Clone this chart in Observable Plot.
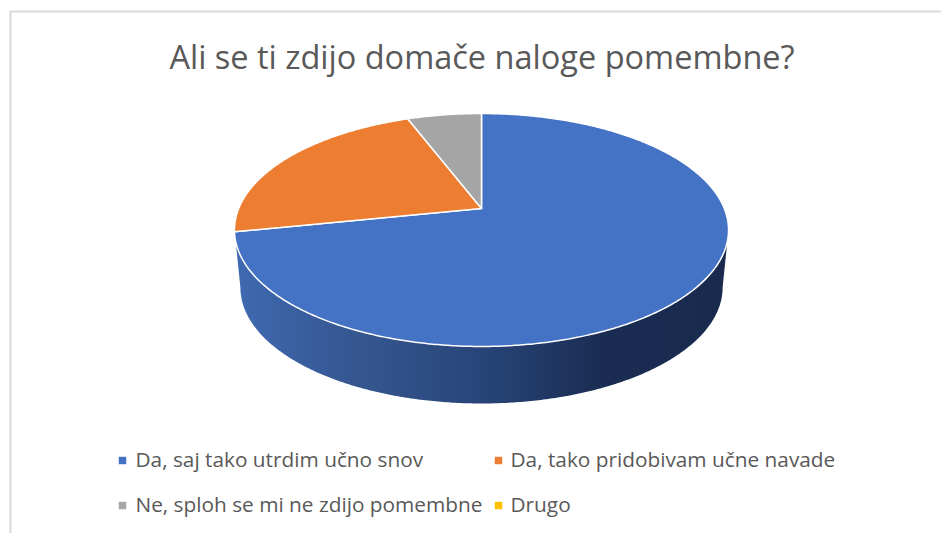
<!DOCTYPE html>
<html>
<head>
<meta charset="utf-8">
<script src="https://cdn.jsdelivr.net/npm/d3@7"></script>
<script src="https://cdn.jsdelivr.net/npm/@observablehq/plot@0.6"></script>
<style>
html,body{margin:0;padding:0;background:#fff;overflow:hidden}
svg{display:block}
</style>
</head>
<body>
<div id="chart"></div>
<script>
const title = "Ali se ti zdijo domače naloge pomembne?";
const categories = ["Da, saj tako utrdim učno snov", "Da, tako pridobivam učne navade", "Ne, sploh se mi ne zdijo pomembne", "Drugo"];
const shares = [71.8, 22.4, 5.8, 0];
const colors = ["#4472c4", "#ed7d31", "#a5a5a5", "#ffc000"];

const W = 941, H = 533;
const cx = 481, cy = 208, persp = 0.1845, rx = 242.8, ry = 112.5;
const rad = Math.PI / 180;

// Perspective view of the pie disc; angle in degrees clockwise from the top.
function rim(deg) {
  const u = Math.sin(deg * rad), v = -Math.cos(deg * rad), w = 1 - persp * v;
  return {x: cx + rx * u / w, y: cy + ry * v / w};
}
// Lower disc of the pie, seen further away and lower down.
function lowerRim(deg) {
  const p = rim(deg);
  return {x: cx + (p.x - cx) * 0.976, y: 287 + (p.y - 229.5) * 0.996};
}

const slices = d3.pie().sort(null).value(d => d)(shares);
const slicePoints = [];
slices.forEach((s, i) => {
  if (s.value === 0) return;
  const a0 = s.startAngle / rad, a1 = s.endAngle / rad;
  const n = Math.ceil((a1 - a0) / 0.5);
  slicePoints.push({x: cx, y: cy, category: categories[i]});
  d3.range(n + 1).forEach(k => {
    slicePoints.push({...rim(a0 + (a1 - a0) * k / n), category: categories[i]});
  });
  slicePoints.push({x: cx, y: cy, category: categories[i]});
});

// Side wall of the pie, between the visible halves of both rims.
const wideAngle = Math.acos(-persp) / rad;
const wallAngles = [...d3.range(wideAngle, 360 - wideAngle, 0.5), 360 - wideAngle];
const wallPoints = [
  ...wallAngles.map(rim),
  ...wallAngles.slice().reverse().map(lowerRim)
];

const legendRows = [
  {x: 122, tx: 135, y: 460},
  {x: 498, tx: 510, y: 460},
  {x: 122, tx: 135, y: 505},
  {x: 498, tx: 510, y: 505}
].map((d, i) => ({...d, category: categories[i]}));

function wallGradient() {
  const svgNS = "http://www.w3.org/2000/svg";
  const defs = document.createElementNS(svgNS, "defs");
  const grad = document.createElementNS(svgNS, "linearGradient");
  grad.setAttribute("id", "wall");
  grad.setAttribute("gradientUnits", "userSpaceOnUse");
  grad.setAttribute("x1", 236); grad.setAttribute("x2", 726);
  grad.setAttribute("y1", 0); grad.setAttribute("y2", 0);
  [[0, "#3f69b1"], [0.25, "#35568f"], [0.5, "#284579"], [0.75, "#1a2c52"], [1, "#192a4e"]].forEach(([o, c]) => {
    const st = document.createElementNS(svgNS, "stop");
    st.setAttribute("offset", o);
    st.setAttribute("stop-color", c);
    grad.appendChild(st);
  });
  defs.appendChild(grad);
  return defs;
}

const chart = Plot.plot({
  width: W, height: H,
  margin: 0,
  style: {background: "#fff", fontFamily: "'Open Sans', sans-serif"},
  x: {domain: [0, W], range: [0, W], axis: null},
  y: {domain: [0, H], range: [0, H], axis: null},
  color: {domain: categories, range: colors},
  marks: [
    wallGradient,
    Plot.ruleX([10], {y1: 11, y2: H, stroke: "#d9d9d9", strokeWidth: 2}),
    Plot.ruleY([11], {x1: 10, x2: W, stroke: "#d9d9d9", strokeWidth: 2}),
    Plot.line(wallPoints, {x: "x", y: "y", fill: "url(#wall)", stroke: "none"}),
    Plot.line(slicePoints, {x: "x", y: "y", z: "category", fill: "category", stroke: "#fff", strokeWidth: 1.5, curve: "linear"}),
    Plot.text([title], {x: () => 481.5, y: () => 58, text: d => d, fontSize: 32.5, fill: "#595959", textAnchor: "middle"}),
    Plot.dot(legendRows, {x: "x", y: "y", fill: "category", symbol: "square", r: 4.2}),
    Plot.text(legendRows, {x: "tx", y: "y", text: "category", fontSize: 20.8, fill: "#595959", textAnchor: "start"})
  ]
});
document.getElementById("chart").appendChild(chart);
</script>
</body>
</html>
